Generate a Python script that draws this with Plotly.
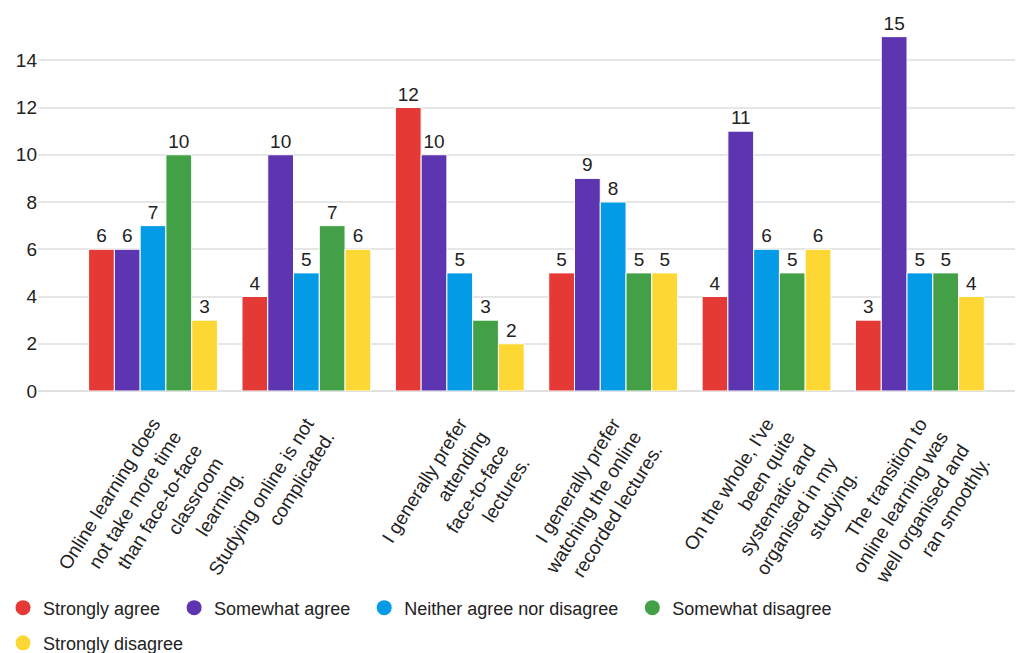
import plotly.graph_objects as go

categories = [
    "Online learning does<br>not take more time<br>than face-to-face<br>classroom<br>learning.",
    "Studying online is not<br>complicated.",
    "I generally prefer<br>attending<br>face-to-face<br>lectures.",
    "I generally prefer<br>watching the online<br>recorded lectures.",
    "On the whole, I've<br>been quite<br>systematic and<br>organised in my<br>studying.",
    "The transition to<br>online learning was<br>well organised and<br>ran smoothly.",
]
series_names = ["Strongly agree", "Somewhat agree", "Neither agree nor disagree",
                "Somewhat disagree", "Strongly disagree"]
strongly_agree = [6, 4, 12, 5, 4, 3]
somewhat_agree = [6, 10, 10, 9, 11, 15]
neither = [7, 5, 5, 8, 6, 5]
somewhat_disagree = [10, 7, 3, 5, 5, 5]
strongly_disagree = [3, 6, 2, 5, 6, 4]
series_values = [strongly_agree, somewhat_agree, neither, somewhat_disagree, strongly_disagree]
colors = ["#E53935", "#5E35B1", "#039BE5", "#43A047", "#FDD835"]
ytick_vals = [0, 2, 4, 6, 8, 10, 12, 14]

FONT = "Liberation Sans, Arial, sans-serif"
TXT = "#222222"
fig = go.Figure()
for name, vals, col in zip(series_names, series_values, colors):
    fig.add_trace(go.Bar(
        x=categories, y=vals, name=name, marker_color=col,
        marker_line_color="white", marker_line_width=1,
        text=vals, textposition="outside", cliponaxis=False,
        textfont=dict(size=19, color=TXT, family=FONT),
        showlegend=False,
    ))
for i, (name, col) in enumerate(zip(series_names, colors)):
    fig.add_trace(go.Scatter(
        x=[None], y=[None], mode="markers", name=name + "\u2002",
        marker=dict(color=col, size=15, symbol="circle"),
        legend="legend" if i < 4 else "legend2",
    ))

fig.update_layout(
    width=1023, height=653,
    margin=dict(l=38, r=8, t=13, b=262, autoexpand=False),
    plot_bgcolor="white", paper_bgcolor="white",
    barmode="group", bargap=0.16, bargroupgap=0,
    font=dict(family=FONT, color=TXT, size=18),
    xaxis=dict(range=[-0.75, 5.62], tickangle=-58, showgrid=False, automargin=False,
               tickfont=dict(size=19, color=TXT), ticks="", showline=False,
               ticklabelstandoff=17),
    yaxis=dict(range=[0, 16], tickvals=ytick_vals, showgrid=True, gridcolor="#E6E6E6",
               gridwidth=1.5, zeroline=True, zerolinecolor="#E0E0E0", zerolinewidth=1.5,
               automargin=False, tickfont=dict(size=19, color=TXT), ticks="",
               ticksuffix="\u2009"),
    legend=dict(orientation="h", x=-0.0358, xanchor="left", y=-0.574, yanchor="middle",
                font=dict(size=18, color=TXT), itemsizing="trace"),
    legend2=dict(orientation="h", x=-0.0358, xanchor="left", y=-0.667, yanchor="middle",
                 font=dict(size=18, color=TXT), itemsizing="trace"),
)
fig.write_html("out.html")
